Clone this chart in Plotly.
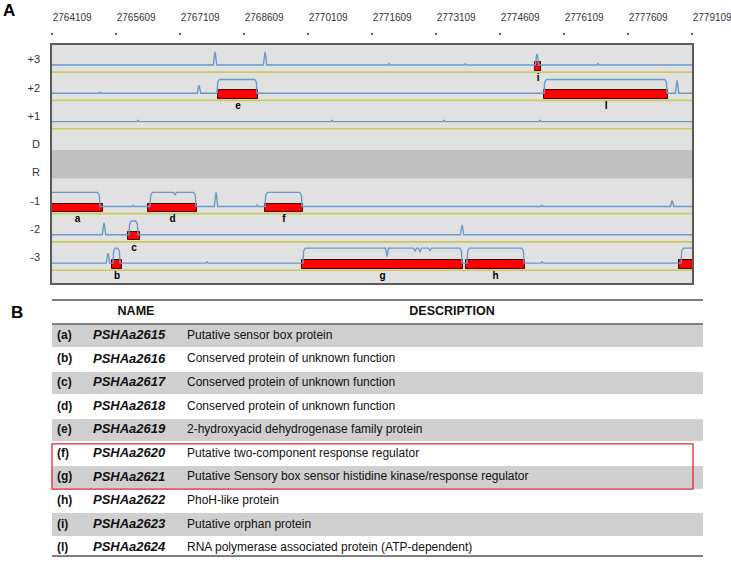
import plotly.graph_objects as go

W, H = 731, 565

# ---------------- Panel A data ----------------
FRAMES = ["+3", "+2", "+1", "D", "R", "-1", "-2", "-3"]
X_TICKS = [2764109, 2765609, 2767109, 2768609, 2770109, 2771609,
           2773109, 2774609, 2776109, 2777609, 2779109]

GENE_LABELS = ["a", "b", "c", "d", "e", "f", "g", "h", "i", "l", ""]
GENE_FRAME = ["-1", "-3", "-2", "-1", "+2", "-1", "-3", "-3", "+3", "+2", "-3"]
GENE_START = [2764109, 2765515, 2765890, 2766359, 2768000, 2769102,
              2769969, 2773813, 2775431, 2775641, 2778806]
GENE_END = [2765304, 2765750, 2766172, 2767508, 2768938, 2769992,
            2773743, 2775196, 2775571, 2778548, 2779300]

# coverage plateaus (transcribed regions)
PLATEAU_FRAME = ["+2", "+2", "-1", "-1", "-1", "-2", "-3", "-3", "-3", "-3"]
PLATEAU_START = [2767977, 2775641, 2764000, 2766406, 2769102, 2765914,
                 2765539, 2769992, 2773836, 2778853]
PLATEAU_END = [2768914, 2778524, 2765234, 2767484, 2769969, 2766125,
               2765703, 2773719, 2775172, 2779400]
PLATEAU_LEVEL = [0.49, 0.49, 0.50, 0.50, 0.50, 0.49, 0.53, 0.53, 0.53, 0.53]

# isolated peaks
PEAK_FRAME = ["+3", "+3", "+3", "+3", "+3", "+3",
              "+2", "+2", "+2",
              "+1", "+1", "+1", "+1",
              "-1", "-1", "-1", "-1", "-1",
              "-2", "-2",
              "-3", "-3", "-3"]
PEAK_POS = [2767930, 2769102, 2775477, 2772008, 2773790, 2776907,
            2767555, 2778759, 2765234,
            2766125, 2770672, 2773297, 2775548,
            2767953, 2778642, 2766008, 2768914, 2775595,
            2765328, 2773719,
            2765422, 2767742, 2775595]
PEAK_LEVEL = [0.46, 0.46, 0.39, 0.05, 0.05, 0.05,
              0.28, 0.46, 0.05,
              0.05, 0.05, 0.05, 0.05,
              0.50, 0.21, 0.05, 0.05, 0.05,
              0.42, 0.35,
              0.35, 0.05, 0.05]

# dips inside plateaus
DIP_FRAME = ["-3", "-3", "-3", "-3", "-1"]
DIP_POS = [2771961, 2772618, 2772735, 2772969, 2766992]
DIP_DEPTH = [0.30, 0.12, 0.15, 0.10, 0.08]

# ---------------- Panel B data ----------------
TBL_KEYS = ["(a)", "(b)", "(c)", "(d)", "(e)", "(f)", "(g)", "(h)", "(i)", "(l)"]
TBL_NAMES = ["PSHAa2615", "PSHAa2616", "PSHAa2617", "PSHAa2618", "PSHAa2619",
             "PSHAa2620", "PSHAa2621", "PSHAa2622", "PSHAa2623", "PSHAa2624"]
TBL_DESC = ["Putative sensor box protein",
            "Conserved protein of unknown function",
            "Conserved protein of unknown function",
            "Conserved protein of unknown function",
            "2-hydroxyacid dehydrogenase family protein",
            "Putative two-component response regulator",
            "Putative Sensory box sensor histidine kinase/response regulator",
            "PhoH-like protein",
            "Putative orphan protein",
            "RNA polymerase associated protein (ATP-dependent)"]
TBL_HEADER = ["NAME", "DESCRIPTION"]
HIGHLIGHT_ROWS = ["(f)", "(g)"]

FONT = "Arial, Liberation Sans, sans-serif"
BLUE = "#6b9bcb"
YELLOW = "#c9c95c"

XMIN, XMAX = X_TICKS[0], X_TICKS[-1]


def px(x):
    return x / W


def py(y):
    return 1 - y / H


def base_of(frame):
    return -FRAMES.index(frame)


def profile(frame):
    b = base_of(frame)
    segs = []
    for f, s, e, lv in zip(PLATEAU_FRAME, PLATEAU_START, PLATEAU_END, PLATEAU_LEVEL):
        if f != frame:
            continue
        top = b + lv
        pts = [(s, b), (s + 15, top - 0.1), (s + 55, top)]
        dips = sorted((p, d) for ff, p, d in zip(DIP_FRAME, DIP_POS, DIP_DEPTH)
                      if ff == frame and s < p < e)
        for p, d in dips:
            pts += [(p - 35, top), (p, top - d), (p + 35, top)]
        pts += [(e - 55, top), (e - 15, top - 0.1), (e, b)]
        segs.append((s, pts))
    for f, p, lv in zip(PEAK_FRAME, PEAK_POS, PEAK_LEVEL):
        if f != frame:
            continue
        w = 40 if lv > 0.1 else 25
        pts = [(p - w, b), (p - w * 0.35, b + lv * 0.75), (p, b + lv),
               (p + w * 0.35, b + lv * 0.75), (p + w, b)]
        segs.append((p - w, pts))
    segs.sort(key=lambda t: t[0])
    xs, ys = [XMIN - 1000], [b]
    for _, pts in segs:
        for x, y in pts:
            xs.append(x)
            ys.append(y)
    xs.append(XMAX + 1000)
    ys.append(b)
    return xs, ys


fig = go.Figure()

# ---------- Panel A ----------
for fr in FRAMES:
    if fr in ("D", "R"):
        continue
    xs, ys = profile(fr)
    fig.add_trace(go.Scatter(x=xs, y=ys, mode="lines",
                             line=dict(color=BLUE, width=1.4),
                             hoverinfo="skip", showlegend=False))

fig.add_trace(go.Bar(
    orientation="h",
    y=[base_of(f) - 0.05 for f in GENE_FRAME],
    x=[e - s for s, e in zip(GENE_START, GENE_END)],
    base=GENE_START,
    width=0.3,
    marker=dict(color="#ff0000", line=dict(color="#4a0000", width=1)),
    hoverinfo="skip", showlegend=False))

fig.add_trace(go.Scatter(
    x=[(s + e) / 2 for s, e in zip(GENE_START, GENE_END)],
    y=[base_of(f) - 0.47 for f in GENE_FRAME],
    text=["<b>%s</b>" % g for g in GENE_LABELS],
    mode="text", textfont=dict(family=FONT, size=10, color="#000"),
    hoverinfo="skip", showlegend=False))

fig.add_trace(go.Scatter(x=[XMIN, XMAX], y=[-100, -100], xaxis="x2",
                         mode="lines", line=dict(width=0),
                         hoverinfo="skip", showlegend=False))

# ---------- Panel B (table drawn on its own axes) ----------
rows = list(range(len(TBL_KEYS)))
gray_rows = [r for r in rows if r % 2 == 0]
TBL_L, TBL_R = 52, 703
fig.add_trace(go.Bar(
    orientation="h", y=gray_rows, x=[TBL_R - TBL_L] * len(gray_rows),
    base=TBL_L, width=0.95, marker=dict(color="#cfcfcf", line=dict(width=0)),
    xaxis="x3", yaxis="y3", hoverinfo="skip", showlegend=False))

COL_X = [57, 93, 187]
COL_TEXT = [["<b>%s</b>" % k for k in TBL_KEYS],
            ["<b><i>%s</i></b>" % n for n in TBL_NAMES],
            TBL_DESC]
COL_SIZE = [12, 13, 12]
for cx, txt, sz in zip(COL_X, COL_TEXT, COL_SIZE):
    fig.add_trace(go.Scatter(
        x=[cx] * len(rows), y=rows, text=txt, mode="text",
        textposition="middle right",
        textfont=dict(family=FONT, size=sz, color="#111"),
        xaxis="x3", yaxis="y3", hoverinfo="skip", showlegend=False))

fig.add_trace(go.Scatter(
    x=[136, 452], y=[-1.0, -1.0], text=["<b>%s</b>" % t for t in TBL_HEADER],
    mode="text", textposition="middle center",
    textfont=dict(family=FONT, size=12.5, color="#111"),
    xaxis="x3", yaxis="y3", hoverinfo="skip", showlegend=False))

shapes = []
# panel A background
shapes.append(dict(type="rect", xref="x domain", yref="y domain", x0=0, x1=1,
                   y0=0, y1=1, fillcolor="#e1e1e1", line=dict(width=0),
                   layer="below"))
shapes.append(dict(type="rect", xref="x domain", yref="y", x0=0, x1=1,
                   y0=base_of("D"), y1=base_of("R"),
                   fillcolor="#c0c0c0", line=dict(width=0), layer="below"))
for fr in FRAMES:
    if fr in ("D", "R"):
        continue
    yv = base_of(fr) - 0.25
    shapes.append(dict(type="line", xref="x domain", yref="y", x0=0, x1=1,
                       y0=yv, y1=yv, line=dict(color=YELLOW, width=1.6),
                       layer="below"))

for yy in (300, 324, 556):
    shapes.append(dict(type="line", xref="paper", yref="paper",
                       x0=px(TBL_L), x1=px(TBL_R), y0=py(yy), y1=py(yy),
                       line=dict(color="#555555", width=1.5)))

hl = [TBL_KEYS.index(k) for k in HIGHLIGHT_ROWS]
shapes.append(dict(type="rect", xref="paper", yref="y3",
                   x0=px(52), x1=px(693), y0=min(hl) - 0.42, y1=max(hl) + 0.5,
                   line=dict(color="#e8262a", width=1.3)))

annotations = [
    dict(text="<b>A</b>", x=px(9), y=py(11), xref="paper", yref="paper",
         xanchor="center", yanchor="middle",
         showarrow=False, font=dict(family=FONT, size=17, color="#000")),
    dict(text="<b>B</b>", x=px(17), y=py(312), xref="paper", yref="paper",
         xanchor="center", yanchor="middle",
         showarrow=False, font=dict(family=FONT, size=17, color="#000")),
]

# table row geometry: header 300-324 px, rows 23.6 px each
ROW_PX = 23.6
y3_top = -0.5 - 24 / ROW_PX
y3_bot = (556 - 324) / ROW_PX - 0.5

fig.update_layout(
    width=W, height=H,
    margin=dict(l=0, r=0, t=0, b=0, autoexpand=False),
    paper_bgcolor="white", plot_bgcolor="white",
    barmode="overlay", bargap=0,
    shapes=shapes, annotations=annotations,
    xaxis=dict(domain=[px(52), px(692)], range=[XMIN, XMAX],
               showticklabels=False, ticks="", showgrid=False, zeroline=False,
               showline=True, mirror=True, linecolor="#5a5a5a", linewidth=1.5,
               anchor="y", automargin=False),
    xaxis2=dict(overlaying="x", matches="x", anchor="free", position=py(35),
                side="top", tickmode="array", tickvals=X_TICKS,
                ticktext=[str(t) for t in X_TICKS],
                ticks="outside", ticklen=2, tickwidth=1.5, tickcolor="#555",
                showline=False, showgrid=False, zeroline=False,
                ticklabelposition="outside right", ticklabelstandoff=10,
                ticklabeloverflow="allow", automargin=False,
                tickfont=dict(family=FONT, size=10, color="#333")),
    yaxis=dict(domain=[py(283), py(45)], range=[-7.703, 0.707],
               tickmode="array", tickvals=[base_of(f) + 0.2 for f in FRAMES],
               ticktext=FRAMES, ticks="", ticklabelstandoff=8,
               tickfont=dict(family=FONT, size=11, color="#333"),
               showgrid=False, zeroline=False, showline=True, mirror=True,
               linecolor="#5a5a5a", linewidth=1.5, automargin=False),
    xaxis3=dict(domain=[0, 1], range=[0, W], visible=False, anchor="y3",
                automargin=False),
    yaxis3=dict(domain=[py(556), py(300)], range=[y3_bot, y3_top],
                visible=False, anchor="x3", automargin=False),
)

fig.write_html("out.html", config={"displayModeBar": False},
               post_script="document.body.style.margin='0px';")
